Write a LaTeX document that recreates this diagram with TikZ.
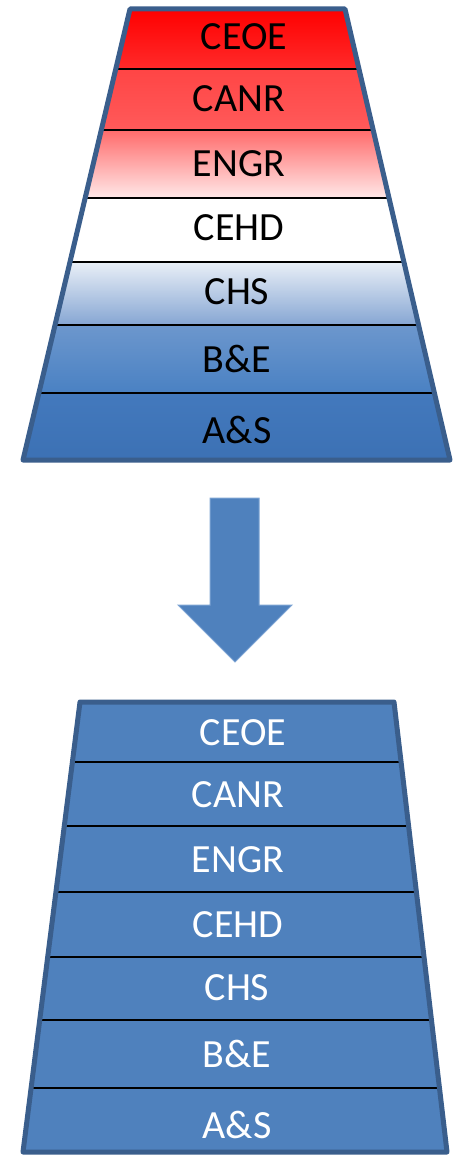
\documentclass[tikz,border=0pt]{standalone}
\usepackage{fontspec}
\setmainfont{Carlito}
\usetikzlibrary{calc}
\definecolor{edgeblue}{HTML}{3A5E8C}
\definecolor{fillblue}{HTML}{4F81BD}
\definecolor{arrowedge}{HTML}{7CA3D3}
\definecolor{cA}{HTML}{FF0000}\definecolor{cB}{HTML}{FF2A2A}
\definecolor{cC}{HTML}{FF4545}\definecolor{cD}{HTML}{FF5A5A}
\definecolor{cE}{HTML}{FF6B6B}\definecolor{cF}{HTML}{FF9696}\definecolor{cG}{HTML}{FFE8E8}
\definecolor{cH}{HTML}{E9EFF7}\definecolor{cI}{HTML}{B4C7E3}\definecolor{cJ}{HTML}{86A6D3}
\definecolor{cK}{HTML}{6C97CD}\definecolor{cL}{HTML}{4A81C3}
\definecolor{cM}{HTML}{4379BD}\definecolor{cN}{HTML}{3C71B4}
\tikzset{
  outline/.style={draw=edgeblue,line width=5pt,line join=round},
  divider/.style={draw=black,line width=1.5pt},
  lbl/.style={anchor=base,inner sep=0pt,font=\fontsize{40}{48}\selectfont},
  darklbl/.style={lbl,text=black},
  lightlbl/.style={lbl,text=white},
}
\begin{document}
\begin{tikzpicture}[x=1pt,y=-1pt]
\useasboundingbox (0,0) rectangle (454,1155);
% ---------- upper trapezoid ----------
\coordinate (TL) at (130,9);
\coordinate (TR) at (345,9);
\coordinate (BL) at (23,460);
\coordinate (BR) at (450,460);
\foreach \n/\f in {1/0.1330,2/0.2683,3/0.4191,4/0.5610,5/0.7007,6/0.8514}{
  \coordinate (ul\n) at ($(TL)!\f!(BL)$);
  \coordinate (ur\n) at ($(TR)!\f!(BR)$);
}
\coordinate (ul0) at (TL);\coordinate (ur0) at (TR);
\coordinate (ul7) at (BL);\coordinate (ur7) at (BR);
\shade[top color=cA,bottom color=cB] (ul0)--(ur0)--(ur1)--(ul1)--cycle;
\shade[top color=cC,bottom color=cD] (ul1)--(ur1)--(ur2)--(ul2)--cycle;
\shade[top color=cE,middle color=cF,bottom color=cG] (ul2)--(ur2)--(ur3)--(ul3)--cycle;
\fill[white] (ul3)--(ur3)--(ur4)--(ul4)--cycle;
\shade[top color=cH,middle color=cI,bottom color=cJ] (ul4)--(ur4)--(ur5)--(ul5)--cycle;
\shade[top color=cK,bottom color=cL] (ul5)--(ur5)--(ur6)--(ul6)--cycle;
\shade[top color=cM,bottom color=cN] (ul6)--(ur6)--(ur7)--(ul7)--cycle;
\foreach \n in {1,...,6}{\draw[divider] (ul\n) -- (ur\n);}
\draw[outline] (TL)--(TR)--(BR)--(BL)--cycle;
\node[darklbl] (u1) at (244,50) {CEOE};
\node[darklbl] (u2) at (239,112) {CANR};
\node[darklbl] (u3) at (239,177) {ENGR};
\node[darklbl] (u4) at (239,241) {CEHD};
\node[darklbl] (u5) at (237,305) {CHS};
\node[darklbl] (u6) at (237,372) {B\&E};
\node[darklbl] (u7) at (237,443) {A\&S};
% ---------- block arrow ----------
\filldraw[fill=fillblue,draw=arrowedge,line width=1pt]
  (210,498)--(259,498)--(259,605)--(292,605)--(235,662)--(178,605)--(210,605)--cycle;
% ---------- lower trapezoid ----------
\coordinate (LTL) at (80,702);
\coordinate (LTR) at (394,702);
\coordinate (LBL) at (23,1152);
\coordinate (LBR) at (447,1152);
\foreach \n/\f in {1/0.1333,2/0.2756,3/0.4222,4/0.5667,5/0.7067,6/0.8578}{
  \coordinate (ll\n) at ($(LTL)!\f!(LBL)$);
  \coordinate (lr\n) at ($(LTR)!\f!(LBR)$);
}
\fill[fillblue] (LTL)--(LTR)--(LBR)--(LBL)--cycle;
\foreach \n in {1,...,6}{\draw[divider] (ll\n) -- (lr\n);}
\draw[outline] (LTL)--(LTR)--(LBR)--(LBL)--cycle;
\node[lightlbl] (l1) at (243,745) {CEOE};
\node[lightlbl] (l2) at (238,807) {CANR};
\node[lightlbl] (l3) at (238,872) {ENGR};
\node[lightlbl] (l4) at (238,937) {CEHD};
\node[lightlbl] (l5) at (237,1000) {CHS};
\node[lightlbl] (l6) at (237,1067) {B\&E};
\node[lightlbl] (l7) at (237,1138) {A\&S};
\end{tikzpicture}
\end{document}
